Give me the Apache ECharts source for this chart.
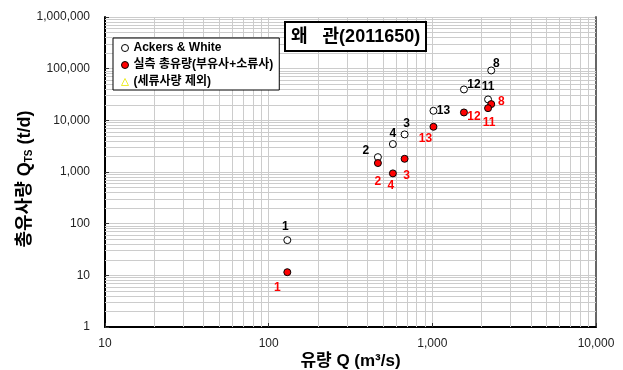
<!DOCTYPE html>
<html><head><meta charset="utf-8">
<script src="https://cdn.jsdelivr.net/npm/echarts@6/dist/echarts.min.js"></script>
<style>html,body{margin:0;padding:0;background:#fff}#c{width:623px;height:370px}</style>
</head><body><div id="c"></div>
<script>
// ---- data ----
const stations = ['1', '2', '3', '4', '8', '11', '12', '13'];
const flowQ = [130, 465, 677, 574, 2290, 2190, 1560, 1016];           // m3/s
const ackersWhite = [48, 1940, 5340, 3470, 92300, 25400, 39600, 15300]; // t/d
const measuredTotal = [11.5, 1490, 1800, 940, 20600, 17200, 14200, 7500]; // t/d
const xTickValues = [10, 100, 1000, 10000];
const yTickValues = [1, 10, 100, 1000, 10000, 100000, 1000000];
const seriesNames = ['Ackers & White', '실측 총유량(부유사+소류사)', '(세류사량 제외)'];
const titleText = '왜   관(2011650)';

// ---- label placement (style) ----
const ackOffsets = {'1': [-2, -13], '2': [-12, -6], '3': [2, -11], '4': [0, -10], '8': [5, -7], '11': [0, -13], '12': [10, -5], '13': [10, 0]};
const measOffsets = {'1': [-10, 15], '2': [0, 19], '3': [2, 17], '4': [-2, 12], '8': [10, -2], '11': [1, 15], '12': [10, 4], '13': [-8, 12]};

const FONT = '"Liberation Sans", Arial, "Noto Sans CJK KR", sans-serif';
const GRID = '#cccccc';

function minorValues(ticks) {
  const out = [];
  for (let i = 0; i < ticks.length - 1; i++) for (let k = 2; k <= 9; k++) out.push(ticks[i] * k);
  return out;
}
const gridLines = [].concat(
  minorValues(xTickValues).map(v => ({xAxis: v})),
  minorValues(yTickValues).map(v => ({yAxis: v}))
);

function points(ys, offsets) {
  return stations.map((s, i) => ({
    name: s,
    value: [flowQ[i], ys[i]],
    label: {offset: offsets[s]}
  }));
}

const chart = echarts.init(document.getElementById('c'), null, {renderer: 'canvas'});
chart.setOption({
  animation: false,
  textStyle: {fontFamily: FONT},
  title: {
    text: titleText, left: 285, top: 22, z: 20,
    padding: [6, 6, 5, 6],
    backgroundColor: '#fff', borderColor: '#000', borderWidth: 2,
    textStyle: {fontFamily: FONT, fontSize: 18, fontWeight: 'bold', color: '#000'}
  },
  legend: {
    orient: 'vertical', left: 113, top: 38, z: 20,
    padding: [4, 6, 2, 8], itemGap: 5,
    itemWidth: 7, itemHeight: 7,
    backgroundColor: '#fff', borderColor: '#000', borderWidth: 1, borderRadius: 0,
    textStyle: {fontFamily: FONT, fontSize: 12, fontWeight: 'bold', color: '#000'},
    data: [
      {name: seriesNames[0], icon: 'circle', itemStyle: {color: '#fff', borderColor: '#000', borderWidth: 1}},
      {name: seriesNames[1], icon: 'circle', itemStyle: {color: '#ff0000', borderColor: '#000', borderWidth: 1}},
      {name: seriesNames[2], icon: 'triangle', itemStyle: {color: '#fff', borderColor: '#e8e800', borderWidth: 1}}
    ]
  },
  grid: {left: 105, right: 27, top: 17, bottom: 43, show: false, containLabel: false, outerBoundsMode: 'none'},
  xAxis: {
    type: 'log', logBase: 10, min: 10, max: 10000,
    name: '유량 Q (m³/s)', nameLocation: 'middle', nameGap: 26, nameMoveOverlap: false,
    nameTextStyle: {fontFamily: FONT, fontSize: 17, fontWeight: 'bold', color: '#000'},
    axisLine: {lineStyle: {color: '#000', width: 2}},
    axisTick: {inside: true, length: 4, lineStyle: {color: '#333'}},
    axisLabel: {fontFamily: FONT, fontSize: 12, color: '#222', margin: 11,
      formatter: v => Number(v).toLocaleString('en-US')},
    splitLine: {show: true, lineStyle: {color: GRID, width: 1}}
  },
  yAxis: [{
    type: 'log', logBase: 10, min: 1, max: 1000000,
    name: '{a|총유사량 Q}{s|TS}{a| (t/d)}', nameLocation: 'middle', nameGap: 71, nameMoveOverlap: false,
    nameTextStyle: {padding: [0, 14, 0, 0], rich: {
      a: {fontFamily: FONT, fontSize: 18, fontWeight: 'bold', color: '#000'},
      s: {fontFamily: FONT, fontSize: 10, fontWeight: 'bold', color: '#000', verticalAlign: 'bottom', padding: [7, 0, 0, 0]}
    }},
    axisLine: {lineStyle: {color: '#000', width: 2}},
    axisTick: {inside: true, length: 4, lineStyle: {color: '#333'}},
    axisLabel: {fontFamily: FONT, fontSize: 12, color: '#222', margin: 15,
      formatter: v => Number(v).toLocaleString('en-US')},
    splitLine: {show: true, lineStyle: {color: GRID, width: 1}}
  }, {
    type: 'log', logBase: 10, min: 1, max: 1000000, position: 'right',
    axisLine: {show: true, lineStyle: {color: '#666', width: 2}},
    axisTick: {show: false}, axisLabel: {show: false}, splitLine: {show: false}
  }],
  series: [
    {
      type: 'line', name: '_grid', data: [], z: 1, silent: true,
      markLine: {silent: true, symbol: 'none', label: {show: false}, z: 1,
        lineStyle: {color: GRID, width: 1, type: 'solid'}, animation: false,
        data: gridLines}
    },
    {
      type: 'scatter', name: seriesNames[0], z: 5,
      symbol: 'circle', symbolSize: 7,
      itemStyle: {color: '#fff', borderColor: '#000', borderWidth: 1, opacity: 1},
      label: {show: true, position: 'inside', formatter: p => p.name,
        fontFamily: FONT, fontSize: 12, fontWeight: 'bold', color: '#000'},
      data: points(ackersWhite, ackOffsets)
    },
    {
      type: 'scatter', name: seriesNames[1], z: 5,
      symbol: 'circle', symbolSize: 7,
      itemStyle: {color: '#ff0000', borderColor: '#000', borderWidth: 1, opacity: 1},
      label: {show: true, position: 'inside', formatter: p => p.name,
        fontFamily: FONT, fontSize: 12, fontWeight: 'bold', color: '#ff0000'},
      data: points(measuredTotal, measOffsets)
    },
    {
      type: 'scatter', name: seriesNames[2], z: 5,
      symbol: 'triangle', symbolSize: 7,
      itemStyle: {color: '#fff', borderColor: '#e8e800', borderWidth: 1},
      data: []
    }
  ]
});
</script></body></html>
